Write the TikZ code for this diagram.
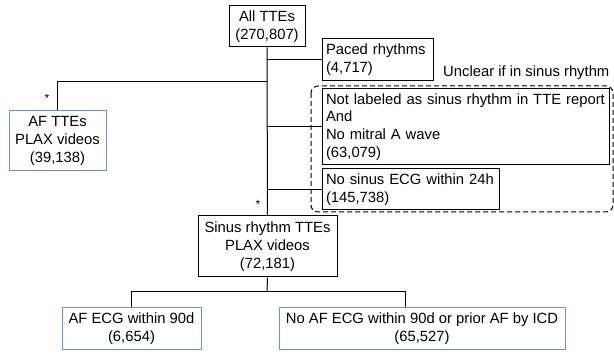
\documentclass[tikz,border=0pt]{standalone}
\usepackage{fontspec}
\setmainfont{Liberation Sans}
\definecolor{boxblue}{RGB}{100,145,215}
\begin{document}
\begin{tikzpicture}[x=1pt,y=-1pt,
  every node/.style={font=\fontsize{14.8}{17.7}\selectfont},
  box/.style={draw=black, line width=1pt, inner sep=0pt, align=center},
  bluebox/.style={box, draw=boxblue},
  lbox/.style={draw=black, line width=1pt, inner xsep=4pt, inner ysep=0pt, align=left},
  link/.style={line width=1pt},
  starlbl/.style={font=\fontsize{12}{12}\selectfont, inner sep=0pt}]
\useasboundingbox (0,0) rectangle (614,355);

% nodes
\node[box, minimum width=76pt, minimum height=41pt] (all) at (267,26.5) {All TTEs\\(270,807)};
\node[bluebox, minimum width=97pt, minimum height=60pt] (aftte) at (57.5,141) {AF TTEs\\PLAX videos\\(39,138)};
\node[lbox, text width=103pt, minimum height=42pt] (paced) at (377.5,60) {Paced rhythms\\(4,717)};
\node[lbox, text width=279pt, minimum height=76pt] (notlab) at (465.5,127) {Not labeled as sinus rhythm in TTE report\\And\\No mitral A wave\\(63,079)};
\node[lbox, text width=169pt, minimum height=41pt] (nosinus) at (410.5,189.5) {No sinus ECG within 24h\\(145,738)};
\node[box, minimum width=139pt, minimum height=61pt] (sinus) at (267.5,246.5) {Sinus rhythm TTEs\\PLAX videos\\(72,181)};
\node[bluebox, minimum width=139pt, minimum height=42pt] (afecg) at (131.5,328.5) {AF ECG within 90d\\(6,654)};
\node[bluebox, minimum width=286pt, minimum height=42pt] (noaf) at (422,328.5) {No AF ECG within 90d or prior AF by ICD\\(65,527)};

% dashed group
\draw[draw=black, line width=1pt, dash pattern=on 5pt off 3pt, rounded corners=7pt] (311,86) rectangle (613,212);
\node[anchor=west, inner sep=0pt] (unclear) at (443,73) {Unclear if in sinus rhythm};

% stars
\node[starlbl] (star1) at (47,98) {*};
\node[starlbl] (star2) at (258,204) {*};

% connectors
\coordinate (tafj) at (267,82);
\coordinate (tsplit) at (267,292);
\draw[link] (all.south) -- (sinus.north);
\draw[link] (tafj) -| (aftte.north);
\draw[link] (paced.west) -- (paced.west -| all.south);
\draw[link] (notlab.west) -- (notlab.west -| all.south);
\draw[link] (nosinus.west) -- (nosinus.west -| all.south);
\draw[link] (sinus.south) -- (tsplit);
\draw[link] (afecg.north) |- (tsplit);
\draw[link] (tsplit) -| ([xshift=-17pt]noaf.north);
\end{tikzpicture}
\end{document}
